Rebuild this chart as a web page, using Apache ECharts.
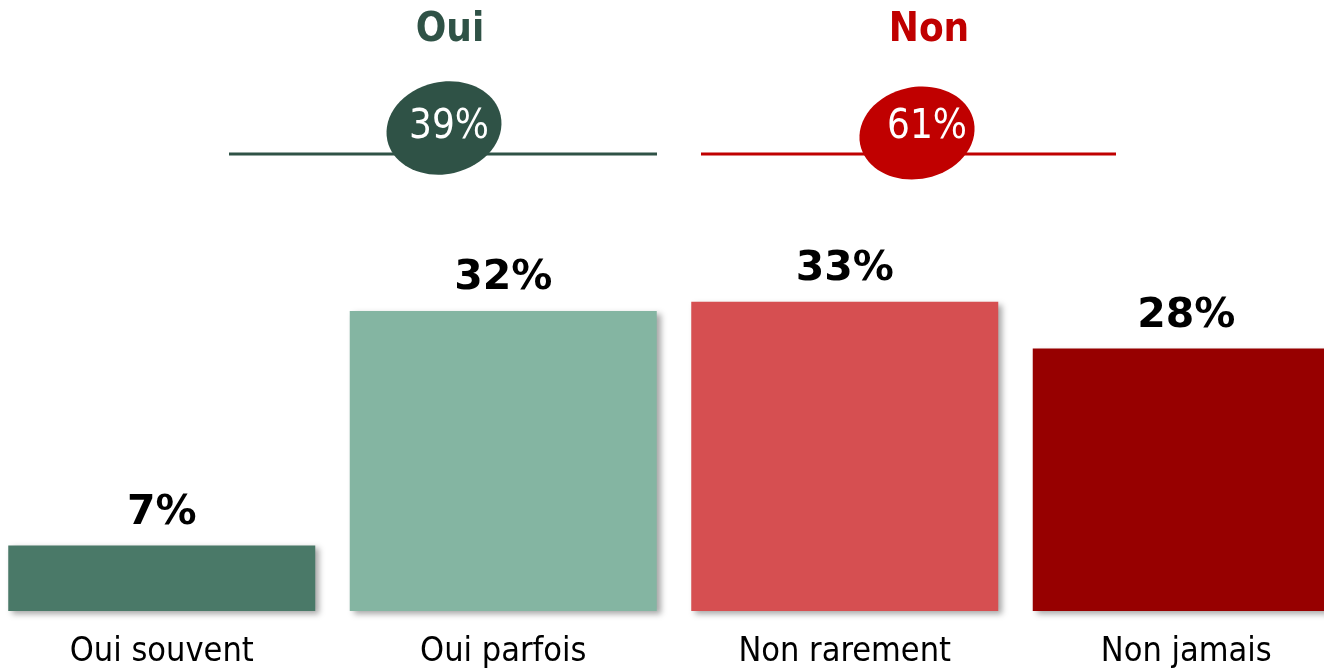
<!DOCTYPE html>
<html>
<head>
<meta charset="utf-8">
<script src="https://cdn.jsdelivr.net/npm/echarts@6/dist/echarts.min.js"></script>
<style>
  html, body {margin: 0; padding: 0; background: #fff;}
  #chart {width: 1324px; height: 670px;}
</style>
</head>
<body>
<div id="chart"></div>
<script>
// Share of answers, split into "Oui" and "Non" groups
const categories = ["Oui souvent", "Oui parfois", "Non rarement", "Non jamais"]
const values = [7, 32, 33, 28]
const barColors = ["#4a7968", "#84b5a2", "#d64f51", "#970000"]
const groupNames = ["Oui", "Non"]
const groupMembers = [[0, 1], [2, 3]]
const groupColors = ["#2f5246", "#c00000"]

const FONT = "'DejaVu Sans Condensed', 'DejaVu Sans', sans-serif"
const groupTotals = groupMembers.map(idx => idx.reduce((s, i) => s + values[i], 0))

// header layout per group: title x, line span, ellipse centre, text centre
const headers = [
  {titleX: 450, lineX: [229, 657], ell: [444, 128], textX: 449, rot: 0.22},
  {titleX: 929, lineX: [701, 1116], ell: [917, 133], textX: 927, rot: 0.2},
]

function headerGraphics() {
  const out = []
  headers.forEach((h, g) => {
    const color = groupColors[g]
    out.push({
      type: "text",
      x: h.titleX,
      y: 31,
      style: {text: groupNames[g], fill: color, font: `bold 40px ${FONT}`, align: "center", verticalAlign: "middle"},
    })
    out.push({
      type: "line",
      shape: {x1: h.lineX[0], y1: 154, x2: h.lineX[1], y2: 154},
      style: {stroke: color, lineWidth: 3},
    })
    out.push({
      type: "ellipse",
      x: h.ell[0],
      y: h.ell[1],
      rotation: h.rot,
      shape: {cx: 0, cy: 0, rx: 58, ry: 46},
      style: {fill: color},
    })
    out.push({
      type: "text",
      x: h.textX,
      y: 128,
      style: {text: `${groupTotals[g]}%`, fill: "#ffffff", font: `40px ${FONT}`, align: "center", verticalAlign: "middle"},
    })
  })
  return out
}

const chart = echarts.init(document.getElementById("chart"), null, {renderer: "canvas"})
chart.setOption({
  backgroundColor: "#ffffff",
  animation: false,
  grid: {left: -9, width: 1366, top: 236, bottom: 59, outerBoundsMode: "none", containLabel: false},
  xAxis: {
    type: "category",
    data: categories,
    axisLine: {show: false},
    axisTick: {show: false},
    axisLabel: {color: "#000", fontSize: 34, fontFamily: FONT, margin: 24},
  },
  yAxis: {type: "value", min: 0, max: 40, show: false, splitLine: {show: false}},
  graphic: headerGraphics(),
  series: [
    {
      type: "bar",
      barWidth: 307,
      data: values.map((v, i) => ({
        value: v,
        itemStyle: {
          color: barColors[i],
          shadowColor: "rgba(0,0,0,0.35)",
          shadowBlur: 6,
          shadowOffsetX: 4,
          shadowOffsetY: 3,
        },
      })),
      label: {
        show: true,
        position: "top",
        distance: 12,
        formatter: p => `${p.value}%`,
        color: "#000",
        fontWeight: "bold",
        fontSize: 41,
        fontFamily: "'DejaVu Sans', sans-serif",
      },
    },
  ],
})
</script>
</body>
</html>
